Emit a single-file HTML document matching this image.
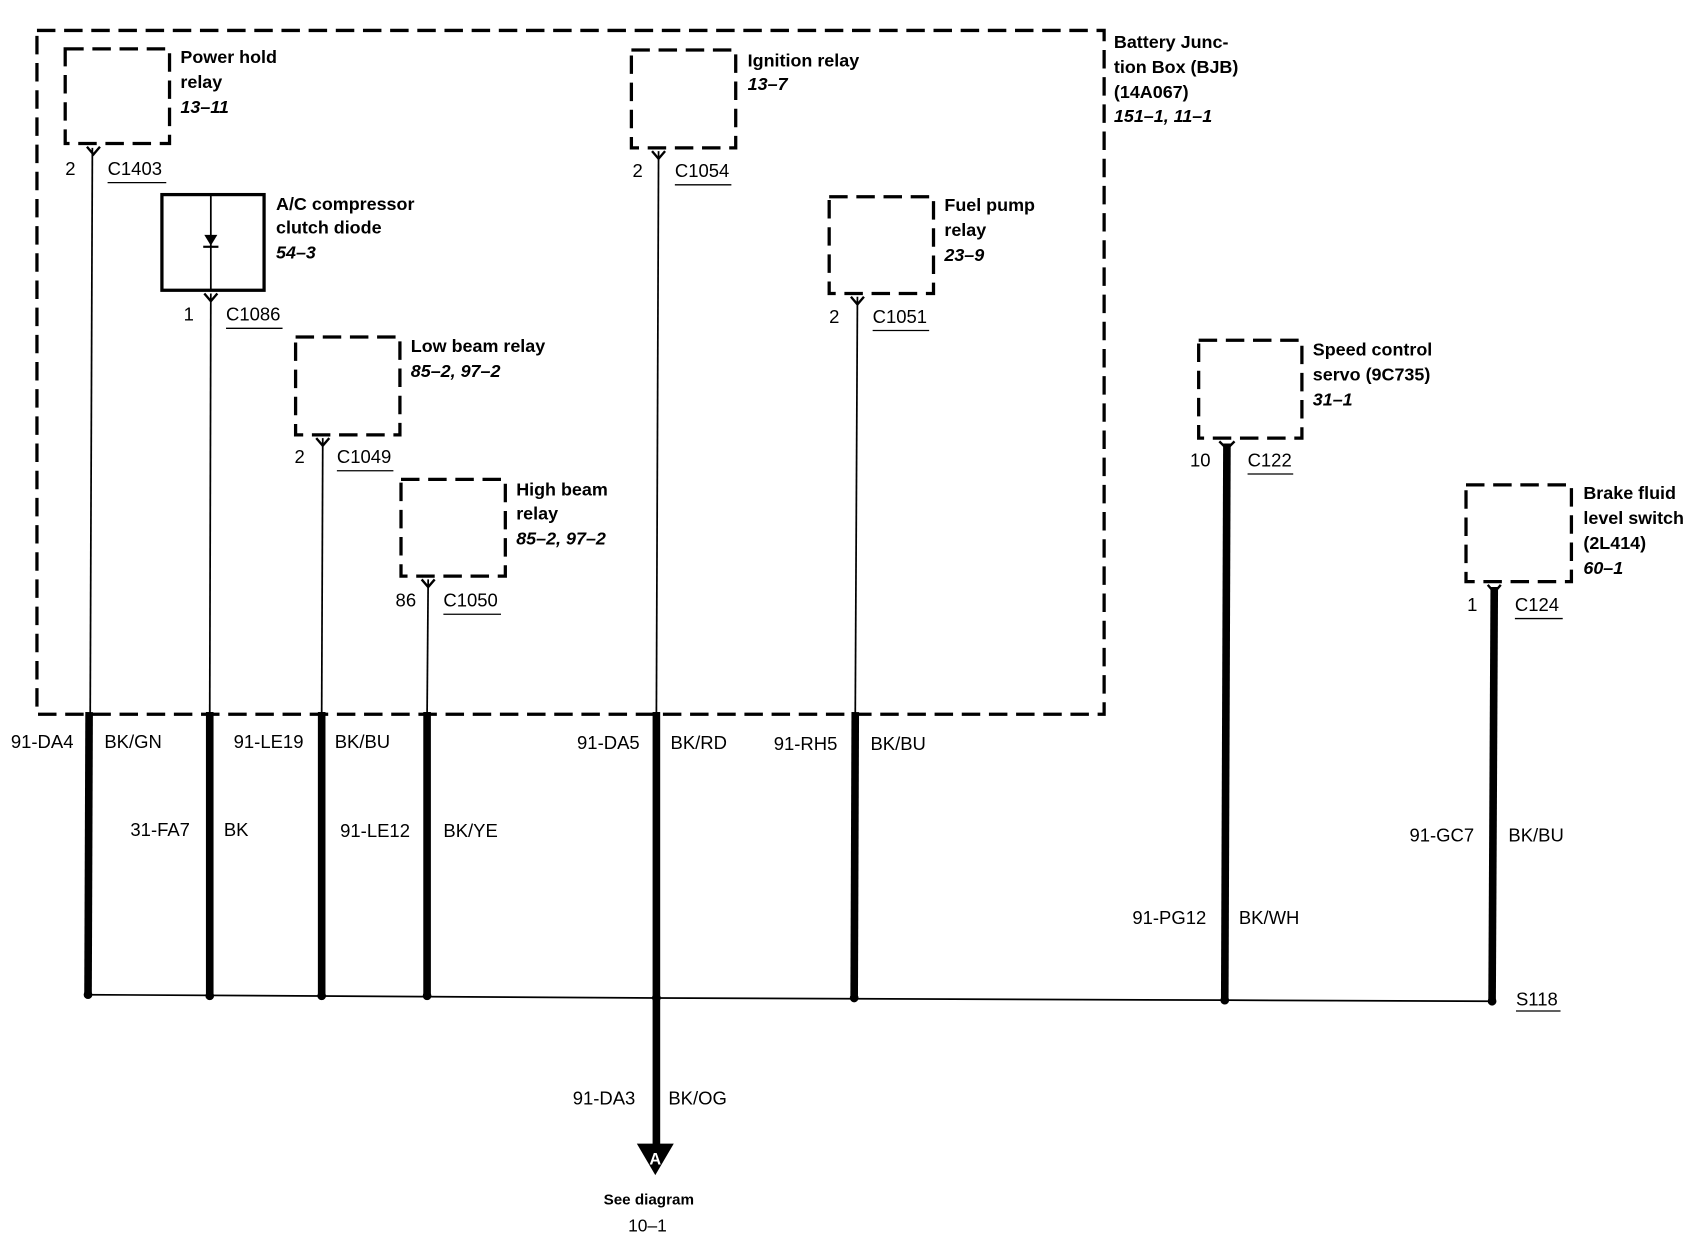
<!DOCTYPE html>
<html><head><meta charset="utf-8"><style>
html,body{margin:0;padding:0;background:#fff;}
svg{display:block;}
text{font-family:"Liberation Sans",Arial,sans-serif;fill:#000;}
.n{font-size:16.5px;font-weight:bold;}
.i{font-size:16.5px;font-weight:bold;font-style:italic;}
.l{font-size:17px;}
.d{fill:none;stroke:#000;stroke-width:3;stroke-dasharray:17 8;}
.t{stroke:#000;stroke-width:1.6;fill:none;}
.k{stroke:#000;stroke-width:7;fill:none;}
</style></head><body>
<svg width="1704" height="1248" viewBox="0 0 1568 1148" preserveAspectRatio="none" xmlns="http://www.w3.org/2000/svg">
<rect class="d" x="34" y="28" width="982" height="629"/>
<text class="n" x="1025" y="44">Battery Junc-</text>
<text class="n" x="1025" y="67">tion Box (BJB)</text>
<text class="n" x="1025" y="90">(14A067)</text>
<text class="i" x="1025" y="112">151–1, 11–1</text>

<rect class="d" x="60" y="45" width="96" height="87"/>
<text class="n" x="166" y="58">Power hold</text><text class="n" x="166" y="81">relay</text><text class="i" x="166" y="104">13–11</text>
<rect class="d" x="581" y="46" width="96" height="90"/>
<text class="n" x="688" y="61">Ignition relay</text><text class="i" x="688" y="83">13–7</text>
<rect class="d" x="763" y="181" width="96" height="89"/>
<text class="n" x="869" y="194">Fuel pump</text><text class="n" x="869" y="217">relay</text><text class="i" x="869" y="240">23–9</text>
<rect class="d" x="272" y="310" width="96" height="90"/>
<text class="n" x="378" y="324">Low beam relay</text><text class="i" x="378" y="347">85–2, 97–2</text>
<rect class="d" x="369" y="441" width="96" height="89"/>
<text class="n" x="475" y="456">High beam</text><text class="n" x="475" y="478">relay</text><text class="i" x="475" y="501">85–2, 97–2</text>
<rect class="d" x="1103" y="313" width="95" height="90"/>
<text class="n" x="1208" y="327">Speed control</text><text class="n" x="1208" y="350">servo (9C735)</text><text class="i" x="1208" y="373">31–1</text>
<rect class="d" x="1349" y="446" width="97" height="89"/>
<text class="n" x="1457" y="459">Brake fluid</text><text class="n" x="1457" y="482">level switch</text><text class="n" x="1457" y="505">(2L414)</text><text class="i" x="1457" y="528">60–1</text>

<rect x="149" y="179" width="94" height="88" fill="none" stroke="#000" stroke-width="3"/>
<line class="t" x1="194" y1="180" x2="194" y2="267"/>
<polygon points="188,216 200,216 194,226" fill="#000"/>
<line x1="187" y1="227" x2="201" y2="227" stroke="#000" stroke-width="2"/>
<text class="n" x="254" y="193">A/C compressor</text><text class="n" x="254" y="215">clutch diode</text><text class="i" x="254" y="238">54–3</text>

<g stroke="#000" stroke-width="2.2" fill="none">
<path d="M80,135 L86,142 L92,135"/>
<path d="M600,139 L606,146 L612,139"/>
<path d="M783,273 L789,280 L795,273"/>
<path d="M188,270 L194,277 L200,270"/>
<path d="M291,403 L297,410 L303,403"/>
<path d="M388,533 L394,540 L400,533"/>
<path d="M1122,406 L1129,413 L1136,406"/>
<path d="M1369,538 L1375,545 L1381,538"/>
</g>

<text class="l" x="60" y="161">2</text><text class="l" x="99" y="161">C1403</text>
<text class="l" x="169" y="295">1</text><text class="l" x="208" y="295">C1086</text>
<text class="l" x="582" y="163">2</text><text class="l" x="621" y="163">C1054</text>
<text class="l" x="763" y="297">2</text><text class="l" x="803" y="297">C1051</text>
<text class="l" x="271" y="426">2</text><text class="l" x="310" y="426">C1049</text>
<text class="l" x="364" y="558">86</text><text class="l" x="408" y="558">C1050</text>
<text class="l" x="1095" y="429">10</text><text class="l" x="1148" y="429">C122</text>
<text class="l" x="1350" y="562">1</text><text class="l" x="1394" y="562">C124</text>
<g stroke="#000" stroke-width="1.2">
<line x1="99" y1="168" x2="153" y2="168"/>
<line x1="208" y1="302" x2="260" y2="302"/>
<line x1="621" y1="170" x2="673" y2="170"/>
<line x1="803" y1="304" x2="855" y2="304"/>
<line x1="310" y1="433" x2="362" y2="433"/>
<line x1="408" y1="565" x2="461" y2="565"/>
<line x1="1148" y1="436" x2="1190" y2="436"/>
<line x1="1394" y1="569" x2="1438" y2="569"/>
<line x1="1395" y1="930" x2="1436" y2="930"/>
</g>

<line class="t" x1="85" y1="136" x2="83" y2="657"/>
<line class="t" x1="194" y1="270" x2="193" y2="657"/>
<line class="t" x1="297" y1="403" x2="296" y2="657"/>
<line class="t" x1="394" y1="533" x2="393" y2="657"/>
<line class="t" x1="606" y1="139" x2="604" y2="657"/>
<line class="t" x1="789" y1="273" x2="787" y2="657"/>

<line class="k" x1="82" y1="655" x2="81" y2="915"/>
<line class="k" x1="193" y1="655" x2="193" y2="915"/>
<line class="k" x1="296" y1="655" x2="296" y2="915"/>
<line class="k" x1="393" y1="655" x2="393" y2="916"/>
<line class="k" x1="604" y1="655" x2="604" y2="1056"/>
<line class="k" x1="787" y1="655" x2="786" y2="917"/>
<line class="k" x1="1129" y1="408" x2="1127" y2="919"/>
<line class="k" x1="1375" y1="540" x2="1373" y2="920"/>

<polyline points="80,915 604,918 1127,920 1373,921" stroke="#000" stroke-width="1.6" fill="none"/>
<g fill="#000">
<circle cx="81" cy="915" r="4"/><circle cx="193" cy="916" r="4"/><circle cx="296" cy="916" r="4"/>
<circle cx="393" cy="916" r="4"/><circle cx="604" cy="918" r="4"/><circle cx="786" cy="918" r="4"/>
<circle cx="1127" cy="920" r="4"/><circle cx="1373" cy="921" r="4"/>
</g>
<text class="l" x="1395" y="925">S118</text>

<polygon points="586,1052 620,1052 603,1081" fill="#000"/>
<text x="603" y="1071" text-anchor="middle" style="font-size:15px;font-weight:bold;fill:#fff">A</text>
<text x="597" y="1108" text-anchor="middle" style="font-size:14px;font-weight:bold">See diagram</text>
<text x="578" y="1133" style="font-size:16px">10–1</text>

<text class="l" x="10" y="688">91-DA4</text><text class="l" x="96" y="688">BK/GN</text>
<text class="l" x="120" y="769">31-FA7</text><text class="l" x="206" y="769">BK</text>
<text class="l" x="215" y="688">91-LE19</text><text class="l" x="308" y="688">BK/BU</text>
<text class="l" x="313" y="770">91-LE12</text><text class="l" x="408" y="770">BK/YE</text>
<text class="l" x="531" y="689">91-DA5</text><text class="l" x="617" y="689">BK/RD</text>
<text class="l" x="712" y="690">91-RH5</text><text class="l" x="801" y="690">BK/BU</text>
<text class="l" x="1042" y="850">91-PG12</text><text class="l" x="1140" y="850">BK/WH</text>
<text class="l" x="1297" y="774">91-GC7</text><text class="l" x="1388" y="774">BK/BU</text>
<text class="l" x="527" y="1016">91-DA3</text><text class="l" x="615" y="1016">BK/OG</text>
</svg>
</body></html>
